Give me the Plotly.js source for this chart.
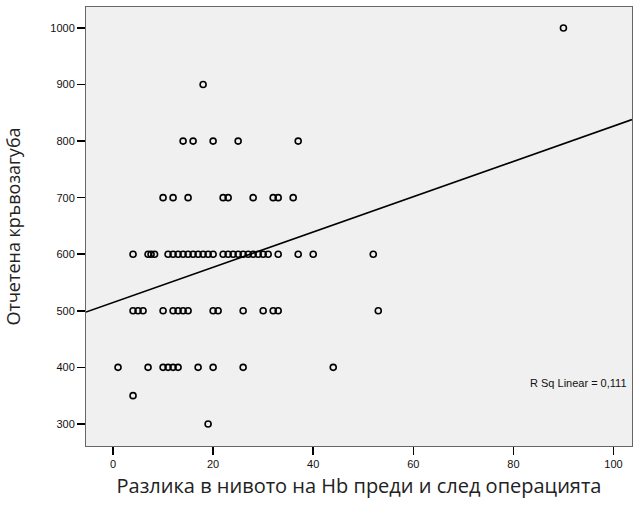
<!DOCTYPE html>
<html>
<head>
<meta charset="utf-8">
<script src="https://cdn.plot.ly/plotly-3.0.1.min.js"></script>
<style>html,body{margin:0;padding:0;background:#fff;}#chart{width:633px;height:515px;}</style>
</head>
<body>
<div id="chart"></div>
<script>
// Hb difference (x) and reported blood loss (y), grouped by row
const x1000 = [90];
const x900 = [18];
const x800 = [14, 16, 20, 25, 37];
const x700 = [10, 12, 15, 22, 23, 28, 32, 33, 36];
const x600 = [4, 7, 7.6, 8.3, 11, 12, 13, 14, 15, 16, 17, 18, 19, 20, 22, 23, 24, 25, 26, 27, 28, 29, 30, 31, 33, 37, 40, 52];
const x500 = [4, 5, 6, 10, 12, 13, 14, 15, 20, 21, 26, 30, 32, 33, 53];
const x400 = [1, 7, 10, 11, 12, 13, 17, 20, 26, 44];
const x350 = [4];
const x300 = [19];
const rowLevels = [1000, 900, 800, 700, 600, 500, 400, 350, 300];
const rowX = [x1000, x900, x800, x700, x600, x500, x400, x350, x300];

// linear fit shown in the chart
const fitIntercept = 514.5;
const fitSlope = 3.12;
const rSqLabel = "R Sq Linear = 0,111";

const xTicks = [0, 20, 40, 60, 80, 100];
const yTicks = [300, 400, 500, 600, 700, 800, 900, 1000];
const xRange = [-5.4, 103.7];
const yRange = [261, 1037];

const xs = [], ys = [];
rowX.forEach((arr, i) => arr.forEach(v => { xs.push(v); ys.push(rowLevels[i]); }));

const tickFont = {family: '"Liberation Sans Narrow", "Liberation Sans", Arial, sans-serif', size: 11, color: '#111'};
const titleFamily = '"Open Sans", "Noto Sans", sans-serif';

const data = [
  {
    x: xs, y: ys, type: 'scatter', mode: 'markers',
    marker: {symbol: 'circle-open', size: 6, color: '#000', line: {width: 1.6, color: '#000'}},
    hoverinfo: 'x+y', showlegend: false
  },
  {
    x: xRange, y: xRange.map(v => fitIntercept + fitSlope * v), type: 'scatter', mode: 'lines',
    line: {color: '#000', width: 1.6}, showlegend: false, hoverinfo: 'skip'
  }
];

const layout = {
  width: 633, height: 515,
  margin: {l: 86, r: 1, t: 7, b: 69},
  paper_bgcolor: '#ffffff',
  plot_bgcolor: '#f0f0f0',
  font: tickFont,
  xaxis: {
    range: xRange, tickvals: xTicks, ticktext: xTicks.map(String),
    ticks: 'outside', ticklen: 8, tickwidth: 1.5, tickcolor: '#000',
    showgrid: false, zeroline: false,
    showline: true, mirror: true, linecolor: '#666', linewidth: 1,
    tickfont: tickFont,
    title: {text: 'Разлика в нивото на Hb преди и след операцията', font: {family: titleFamily, size: 20, color: '#222'}, standoff: 9}
  },
  yaxis: {
    range: yRange, tickvals: yTicks, ticktext: yTicks.map(String),
    ticks: 'outside', ticklen: 8, tickwidth: 1.5, tickcolor: '#000',
    showgrid: false, zeroline: false,
    showline: true, mirror: true, linecolor: '#666', linewidth: 1,
    tickfont: tickFont,
    title: {text: 'Отчетена кръвозагуба', font: {family: titleFamily, size: 18, color: '#222'}, standoff: 25}
  },
  annotations: [{
    text: rSqLabel, xref: 'paper', yref: 'y', x: 0.995, y: 372, xanchor: 'right', yanchor: 'middle',
    showarrow: false, font: {family: '"Liberation Sans Narrow", "Liberation Sans", Arial, sans-serif', size: 11, color: '#111'}
  }]
};

Plotly.newPlot('chart', data, layout, {displayModeBar: false, staticPlot: true});
</script>
</body>
</html>
